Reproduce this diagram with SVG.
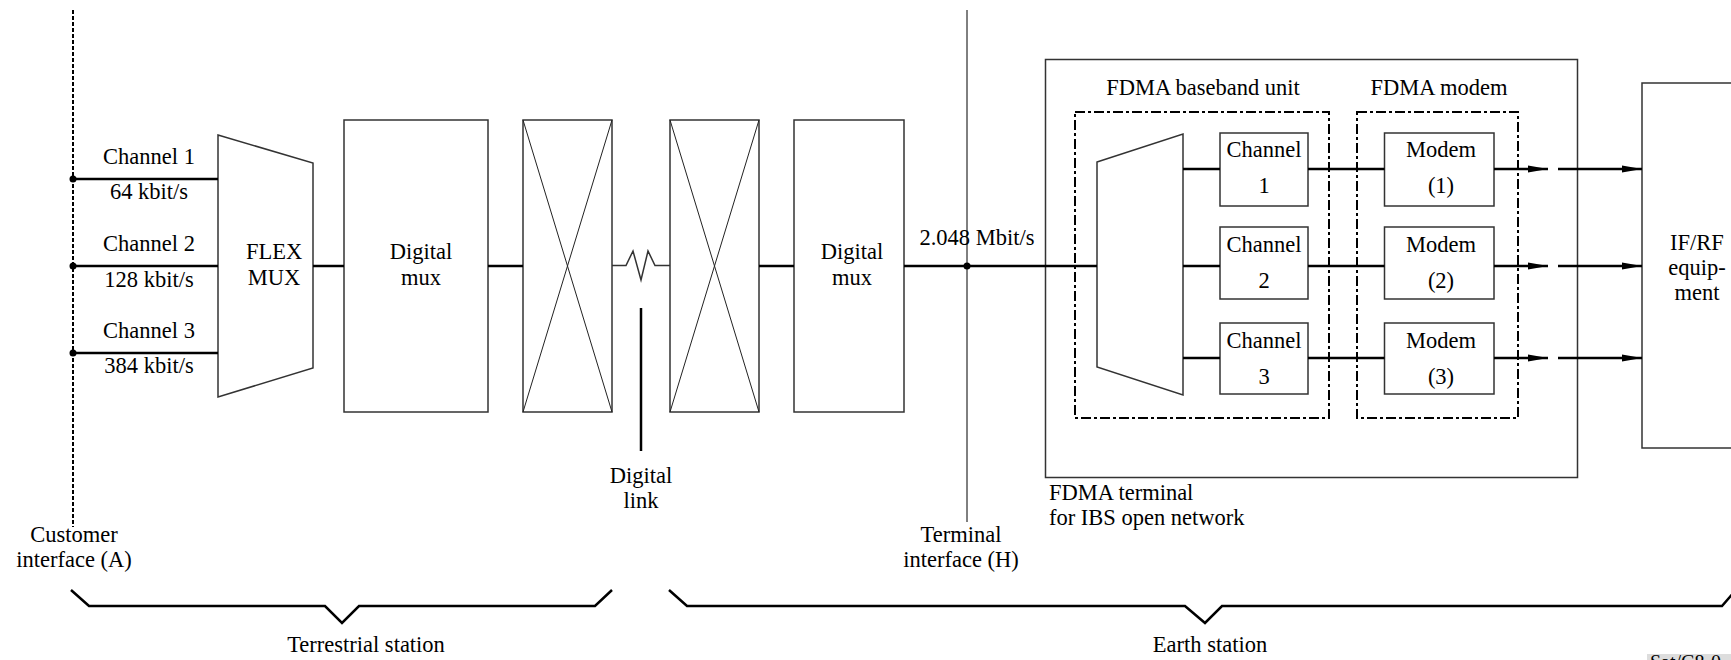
<svg xmlns="http://www.w3.org/2000/svg" width="1731" height="660" viewBox="0 0 1731 660">
<style>
.box{fill:none;stroke:#333;stroke-width:1.5}
.diag{stroke:#222;stroke-width:1;fill:none}
.wire{stroke:#000;stroke-width:2.5;fill:none}
.thin{stroke:#000;stroke-width:1;fill:none}
.dashv{stroke:#000;stroke-width:2;stroke-dasharray:4 2;fill:none}
.dbox{fill:none;stroke:#000;stroke-width:2;stroke-dasharray:10 3 3 3}
.t{font-family:"Liberation Serif","Times New Roman",serif;font-size:22.5px;fill:#000}
.c{text-anchor:middle}
.dot{fill:#000}
</style>
<defs>
<marker id="arr" viewBox="0 0 20 8" refX="20" refY="4" markerWidth="20" markerHeight="8" markerUnits="userSpaceOnUse" orient="auto">
<path d="M0,0.6 L20,4 L0,7.4 z" fill="#000"/>
</marker>
</defs>
<rect width="1731" height="660" fill="#fff"/>

<g id="customer-interface">
<line class="dashv" x1="73" y1="10" x2="73" y2="527"/>
<text class="t c" x="74" y="542">Customer</text>
<text class="t c" x="74" y="567">interface (A)</text>
</g>

<g id="channel-labels">
<text class="t c" x="149" y="164">Channel 1</text>
<text class="t c" x="149" y="199">64 kbit/s</text>
<text class="t c" x="149" y="251">Channel 2</text>
<text class="t c" x="149" y="287">128 kbit/s</text>
<text class="t c" x="149" y="338">Channel 3</text>
<text class="t c" x="149" y="373">384 kbit/s</text>
</g>

<g id="flex-mux">
<polygon class="box" points="218,135 313,163 313,368 218,397"/>
<text class="t c" x="274" y="259">FLEX</text>
<text class="t c" x="274" y="285">MUX</text>
</g>

<g id="digital-mux-1">
<rect class="box" x="344" y="120" width="144" height="292"/>
<text class="t c" x="421" y="259">Digital</text>
<text class="t c" x="421" y="285">mux</text>
</g>

<g id="xbox-1">
<rect class="box" x="523" y="120" width="89" height="292"/>
<line class="diag" x1="523" y1="120" x2="612" y2="412"/>
<line class="diag" x1="612" y1="120" x2="523" y2="412"/>
</g>

<g id="xbox-2">
<rect class="box" x="670" y="120" width="89" height="292"/>
<line class="diag" x1="670" y1="120" x2="759" y2="412"/>
<line class="diag" x1="759" y1="120" x2="670" y2="412"/>
</g>

<g id="digital-link">
<line x1="641" y1="308" x2="641" y2="451" stroke="#000" stroke-width="2.5"/>
<text class="t c" x="641" y="483">Digital</text>
<text class="t c" x="641" y="508">link</text>
</g>

<g id="digital-mux-2">
<rect class="box" x="794" y="120" width="110" height="292"/>
<text class="t c" x="852" y="259">Digital</text>
<text class="t c" x="852" y="285">mux</text>
</g>

<g id="terminal-interface">
<line class="thin" x1="967" y1="10" x2="967" y2="522"/>
<text class="t c" x="977" y="245">2.048 Mbit/s</text>
<text class="t c" x="961" y="542">Terminal</text>
<text class="t c" x="961" y="567">interface (H)</text>
</g>

<g id="fdma-terminal">
<rect class="box" x="1045.5" y="59.5" width="532" height="418"/>
<text class="t" x="1049" y="500">FDMA terminal</text>
<text class="t" x="1049" y="525">for IBS open network</text>
</g>

<g id="fdma-baseband-unit">
<rect class="dbox" x="1075" y="112" width="254" height="306"/>
<text class="t c" x="1203" y="95">FDMA baseband unit</text>
<polygon class="box" points="1097,162 1183,134 1183,395 1097,367"/>
</g>

<g id="channel-1"><rect class="box" x="1220" y="133" width="88" height="73"/><text class="t c" x="1264" y="157">Channel</text><text class="t c" x="1264" y="193">1</text></g>
<g id="channel-2"><rect class="box" x="1220" y="227" width="88" height="72"/><text class="t c" x="1264" y="252">Channel</text><text class="t c" x="1264" y="288">2</text></g>
<g id="channel-3"><rect class="box" x="1220" y="323" width="88" height="71"/><text class="t c" x="1264" y="348">Channel</text><text class="t c" x="1264" y="384">3</text></g>

<g id="fdma-modem">
<rect class="dbox" x="1357" y="112" width="161" height="306"/>
<text class="t c" x="1439" y="95">FDMA modem</text>
</g>

<g id="modem-1"><rect class="box" x="1384.5" y="133" width="109.5" height="73"/><text class="t c" x="1441" y="157">Modem</text><text class="t c" x="1441" y="193">(1)</text></g>
<g id="modem-2"><rect class="box" x="1384.5" y="227" width="109.5" height="72"/><text class="t c" x="1441" y="252">Modem</text><text class="t c" x="1441" y="288">(2)</text></g>
<g id="modem-3"><rect class="box" x="1384.5" y="323" width="109.5" height="71"/><text class="t c" x="1441" y="348">Modem</text><text class="t c" x="1441" y="384">(3)</text></g>

<g id="if-rf-equipment">
<rect class="box" x="1642" y="83" width="110" height="365"/>
<text class="t c" x="1697" y="250">IF/RF</text>
<text class="t c" x="1697" y="275">equip-</text>
<text class="t c" x="1697" y="300">ment</text>
</g>

<g id="connectors">
<line class="wire" x1="73" y1="179" x2="218" y2="179"/>
<line class="wire" x1="73" y1="266" x2="218" y2="266"/>
<line class="wire" x1="73" y1="353" x2="218" y2="353"/>
<circle class="dot" cx="73" cy="179" r="3.5"/>
<circle class="dot" cx="73" cy="266" r="3.5"/>
<circle class="dot" cx="73" cy="353" r="3.5"/>
<line class="wire" x1="313" y1="266" x2="344" y2="266"/>
<line class="wire" x1="488" y1="266" x2="523" y2="266"/>
<polyline fill="none" stroke="#333" stroke-width="1.5" points="612,265.5 626,265.5 633,251 641,280 648,251 655,265.5 670,265.5"/>
<line class="wire" x1="759" y1="266" x2="794" y2="266"/>
<line class="wire" x1="904" y1="266" x2="1097" y2="266"/>
<circle class="dot" cx="967" cy="266" r="3.5"/>
<line class="wire" x1="1183" y1="169" x2="1220" y2="169"/>
<line class="wire" x1="1183" y1="266" x2="1220" y2="266"/>
<line class="wire" x1="1183" y1="358" x2="1220" y2="358"/>
<line class="wire" x1="1308" y1="169" x2="1384.5" y2="169"/>
<line class="wire" x1="1308" y1="266" x2="1384.5" y2="266"/>
<line class="wire" x1="1308" y1="358" x2="1384.5" y2="358"/>
<line class="wire" x1="1494" y1="169" x2="1548" y2="169" marker-end="url(#arr)"/>
<line class="wire" x1="1494" y1="266" x2="1548" y2="266" marker-end="url(#arr)"/>
<line class="wire" x1="1494" y1="358" x2="1548" y2="358" marker-end="url(#arr)"/>
<line class="wire" x1="1558" y1="169" x2="1642" y2="169" marker-end="url(#arr)"/>
<line class="wire" x1="1558" y1="266" x2="1642" y2="266" marker-end="url(#arr)"/>
<line class="wire" x1="1558" y1="358" x2="1642" y2="358" marker-end="url(#arr)"/>
</g>

<g id="terrestrial-station">
<polyline class="wire" points="71,590 89,606 325,606 342,623 359,606 595,606 612,590"/>
<text class="t c" x="366" y="652">Terrestrial station</text>
</g>

<g id="earth-station">
<polyline class="wire" points="669,590 687,606 1185,606 1205,623 1222,606 1722,606 1736,590"/>
<text class="t c" x="1210" y="652">Earth station</text>
</g>

<g id="figure-ref">
<rect x="1647" y="654" width="90" height="10" fill="#ddd"/>
<text x="1650" y="669" font-family="Liberation Serif, serif" font-size="20" fill="#000">Sat/C8-0</text>
</g>
</svg>
